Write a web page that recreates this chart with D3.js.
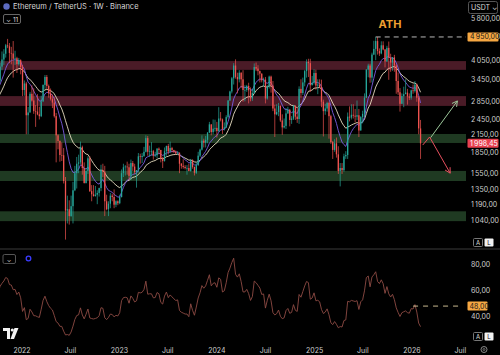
<!DOCTYPE html>
<html><head><meta charset="utf-8">
<script src="https://cdn.jsdelivr.net/npm/d3@7/dist/d3.min.js"></script>
<style>
html,body{margin:0;padding:0;background:#000;overflow:hidden}
svg{display:block;font-family:"Inter","Roboto","Noto Sans",sans-serif}
</style></head><body><svg id="c" width="500" height="355"></svg>
<script>
// ---------- DATA (ETH/USDT weekly) ----------
const firstWeek = "2021-05-24";
const firstOpen = 2100;
const closes = [
 2430,2710,2510,2240,1980,2320,2130,1900,2190,2610,3160,3150,3240,3230,3950,3410,3330,2920,3390,
 3415,3845,4085,4290,4610,4570,4320,4300,4110,4130,3925,4060,3830,
 3150,3330,2540,2600,3050,2880,2630,2620,2560,2520,2860,3290,3520,3260,3060,2920,2830,2520,2140,2040,1810,1805,
 1450,1127,1140,1075,1170,1340,1550,1680,1700,1935,1620,1425,1580,1760,1330,1295,1275,1290,1310,1365,1590,1570,
 1220,1140,1195,1280,1265,1185,1220,1200,
 1265,1550,1630,1640,1630,1515,1690,1640,1565,1590,1790,1780,1795,1860,2090,1860,1870,1870,1800,1805,1910,1890,
 1750,1720,1870,1955,1865,1920,1890,1860,1835,1845,1680,1650,1635,1620,1620,1580,1730,1635,1555,1660,1800,1895,
 2045,2010,2060,2190,2350,2200,2265,2280,
 2220,2470,2450,2260,2290,2500,2880,3110,3480,3880,3520,3450,3650,3450,3150,3150,3260,3140,2930,3070,3830,3780,
 3700,3620,3420,3440,2930,3250,3530,3270,2690,2560,2610,2750,2430,2290,2320,2580,2660,2440,2470,2750,2510,2460,
 3180,3070,3360,3700,4000,3960,3280,3350,3640,
 3270,3300,3230,2850,2630,2690,2820,2520,2020,1890,2000,1820,1580,1620,1590,1790,1810,2510,2490,2550,2530,2510,
 2540,2230,2500,2570,2950,3750,3880,3500,4260,4470,4780,4390,4300,4610,4450,4020,4510,4150,3980,4160,3880,3400,
 3090,2800,2990,3040,3080,2980,2950,3140,
 3120,3300,2950,2270,1998.45
];
const highs = [
 2900,2890,2720,2600,2270,2400,2410,2070,2280,2640,3180,3330,3280,3370,4030,3970,3680,3340,3480,
 3670,3975,4375,4460,4665,4868,4700,4550,4780,4400,4180,4140,4090,
 3900,3415,3375,2725,3100,3280,3195,2770,3040,2730,3000,3300,3580,3580,3300,3190,3030,2960,2590,2160,2050,2015,
 1920,1500,1280,1230,1280,1440,1650,1780,1815,2030,1960,1700,1620,1790,1790,1400,1400,1390,1340,1370,1665,1680,
 1650,1290,1220,1310,1300,1350,1230,1230,
 1290,1600,1680,1660,1710,1680,1740,1720,1680,1590,1840,1830,1840,1940,2140,2130,1960,2020,1890,1860,1920,1930,
 1890,1780,1930,1960,1990,2030,1940,1890,1880,1870,1850,1690,1745,1660,1660,1680,1750,1745,1640,1700,1860,1910,
 2140,2080,2130,2200,2400,2300,2450,2445,
 2400,2720,2610,2470,2390,2540,2890,3130,3520,3960,4090,3650,3730,3660,3730,3280,3290,3350,3220,3190,3950,3980,
 3890,3720,3630,3500,3520,3280,3560,3560,3400,2780,2790,2820,2760,2560,2470,2700,2730,2680,2520,2770,2770,2720,
 3250,3450,3500,3740,4090,4110,4110,3550,3760,
 3745,3450,3450,3440,2900,2800,2850,2850,2550,2040,2070,2100,1950,1690,1690,1830,1870,2600,2740,2790,2790,2680,
 2880,2680,2520,2640,3060,3760,3940,3940,4330,4790,4956,4950,4490,4770,4770,4460,4590,4760,4290,4170,4250,3920,
 3660,3200,3060,3240,3450,3180,3060,3160,
 3300,3400,3330,3000,2440
];
const lows = [
 1730,2500,2320,2040,1700,1960,2040,1850,1720,2160,2450,3020,2950,3060,3160,3030,3280,2650,2740,
 3280,3370,3725,3900,4150,4500,3960,3920,3500,3900,3640,3880,3600,
 2990,3000,2160,2160,2600,2855,2570,2300,2540,2450,2500,2840,3180,3160,2950,2880,2700,2490,1700,1900,1710,1720,
 1420,880,1010,1000,1070,1010,1330,1360,1550,1670,1530,1420,1420,1540,1320,1220,1270,1270,1190,1270,1330,1500,
 1075,1130,1075,1150,1220,1150,1160,1180,
 1190,1260,1500,1520,1530,1460,1460,1580,1540,1370,1560,1680,1690,1780,1850,1800,1780,1800,1740,1780,1760,1820,
 1700,1620,1710,1800,1820,1840,1850,1840,1815,1815,1550,1610,1610,1600,1530,1575,1570,1610,1520,1540,1650,1780,
 1880,1930,1930,2000,2180,2140,2160,2210,
 2100,2200,2410,2165,2230,2280,2470,2870,3060,3300,3470,3060,3360,3200,2850,2860,3100,2810,2860,2870,3050,3700,
 3570,3360,3360,3240,2810,2900,3190,3080,2630,2110,2540,2520,2400,2150,2270,2260,2570,2310,2360,2440,2440,2380,
 2360,2950,3020,3250,3500,3520,3100,3280,3300,
 3160,3040,3200,2720,2120,2550,2620,2080,1990,1750,1860,1770,1540,1385,1540,1570,1750,1750,2410,2450,2470,2390,
 2440,2110,2230,2370,2500,2940,3510,3350,3360,4240,4060,4260,4210,4270,4420,3820,4000,3435,3680,3710,3680,3050,
 3020,2620,2800,2720,3050,2780,2890,2900,
 3050,3080,2850,2160,1750
];
const priceTicks = [5800, 4950, 4050, 3450, 2850, 2450, 2150, 1850, 1550, 1350, 1190, 1040];
const timeTickDates = ["2022-01-01","2022-07-01","2023-01-01","2023-07-01","2024-01-01","2024-07-01","2025-01-01","2025-07-01","2026-01-01","2026-07-01"];
const timeTickLabels = ["2022","Juil","2023","Juil","2024","Juil","2025","Juil","2026","Juil"];
const resistanceZones = [[3740, 4030], [2750, 2990]];
const supportZones = [[2005, 2165], [1450, 1580], [1030, 1120]];
const athPrice = 4950;
const athStart = "2025-08-18";
const lastPrice = 1998.45;
const upPathDates = ["2026-03-12", "2026-06-20"];
const upPathPrices = [2100, 2870];
const downPathDates = ["2026-02-10", "2026-03-08", "2026-05-24"];
const downPathPrices = [1970, 2110, 1550];
const rsiTicks = [80, 60, 40];
const rsiLevel = 48;
const rsiLevelStart = "2026-01-05";
const fastLen = 10, slowLen = 20, rsiLen = 14;

// ---------- SETUP ----------
const svg = d3.select("#c");
const W = 500, H = 355, plotR = 466, priceB = 248, rsiT = 250, rsiB = 341;
const fr = d3.formatLocale({decimal: ",", thousands: "\u202f", grouping: [3], currency: ["", ""]});
const fmt = fr.format(",.2f");
const parse = d3.timeParse("%Y-%m-%d");
const x = d3.scaleTime().domain([parse("2022-01-01"), parse("2026-01-01")]).range([22, 412]);
const y = d3.scaleLog().domain([4050, 1040]).range([60.5, 220]);
const yr = d3.scaleLinear().domain([80, 40]).range([264, 316.6]);

svg.append("rect").attr("width", W).attr("height", H).attr("fill", "#000");
const defs = svg.append("defs");
defs.append("clipPath").attr("id", "cp").append("rect").attr("x", 0).attr("y", 0).attr("width", plotR).attr("height", priceB);
defs.append("clipPath").attr("id", "cr").append("rect").attr("x", 0).attr("y", rsiT).attr("width", plotR).attr("height", rsiB - rsiT);

const start = parse(firstWeek);
const candles = closes.map((c, i) => ({
  date: d3.timeMonday.offset(start, i),
  open: i ? closes[i - 1] : firstOpen,
  high: highs[i], low: lows[i], close: c
}));

// zones
const pz = svg.append("g").attr("clip-path", "url(#cp)");
resistanceZones.forEach(([lo, hi]) => pz.append("rect").attr("x", 0).attr("width", plotR)
  .attr("y", y(hi)).attr("height", y(lo) - y(hi)).attr("fill", "#4a1b27"));
supportZones.forEach(([lo, hi]) => pz.append("rect").attr("x", 0).attr("width", plotR)
  .attr("y", y(hi)).attr("height", y(lo) - y(hi)).attr("fill", "#1f3a22"));

// moving averages
function ema(vals, n) {
  const k = 2 / (n + 1); let prev = vals[0];
  return vals.map((v, i) => (prev = i ? v * k + prev * (1 - k) : v));
}
const fast = ema(closes, fastLen), slow = ema(closes, slowLen);
const lineP = d3.line().x((d, i) => x(candles[i].date)).y(d => y(d));
pz.append("path").attr("d", lineP(slow)).attr("fill", "none").attr("stroke", "#e9dfc2").attr("stroke-width", 0.9);
pz.append("path").attr("d", lineP(fast)).attr("fill", "none").attr("stroke", "#7a5ce0").attr("stroke-width", 0.9);

// candles
const up = "#26a69a", dn = "#ef5350";
const cg = pz.append("g");
cg.selectAll("line").data(candles).join("line")
  .attr("x1", d => x(d.date)).attr("x2", d => x(d.date))
  .attr("y1", d => y(Math.max(d.high, d.open, d.close))).attr("y2", d => y(Math.min(d.low, d.open, d.close)))
  .attr("stroke", d => d.close >= d.open ? up : dn).attr("stroke-width", 0.7);
cg.selectAll("rect").data(candles).join("rect")
  .attr("x", d => x(d.date) - 0.65).attr("width", 1.3)
  .attr("y", d => y(Math.max(d.open, d.close)))
  .attr("height", d => Math.max(0.6, y(Math.min(d.open, d.close)) - y(Math.max(d.open, d.close))))
  .attr("fill", d => d.close >= d.open ? up : dn);

// ATH line
svg.append("line").attr("x1", x(parse(athStart))).attr("x2", plotR).attr("y1", y(athPrice)).attr("y2", y(athPrice))
  .attr("stroke", "#b8b8b8").attr("stroke-width", 1).attr("stroke-dasharray", "5,4");
svg.append("text").attr("x", 390).attr("y", 28).attr("text-anchor", "middle").attr("fill", "#f0a030")
  .attr("font-size", 11).attr("font-weight", 700).text("ATH");

// projection arrows
function arrow(dates, prices, color) {
  const pts = dates.map((d, i) => [x(parse(d)), y(prices[i])]);
  svg.append("path").attr("d", d3.line()(pts)).attr("fill", "none").attr("stroke", color).attr("stroke-width", 1);
  const [a, b] = pts.slice(-2);
  const ang = Math.atan2(b[1] - a[1], b[0] - a[0]), L = 6;
  const h1 = [b[0] - L * Math.cos(ang - 0.5), b[1] - L * Math.sin(ang - 0.5)];
  const h2 = [b[0] - L * Math.cos(ang + 0.5), b[1] - L * Math.sin(ang + 0.5)];
  svg.append("path").attr("d", d3.line()([h1, b, h2])).attr("fill", "none").attr("stroke", color).attr("stroke-width", 1);
}
arrow(upPathDates, upPathPrices, "#9cc79a");
arrow(downPathDates, downPathPrices, "#e8505f");

// price axis labels
const axG = svg.append("g").attr("font-size", 7).attr("fill", "#cfcfcf");
priceTicks.forEach(p => axG.append("text").attr("x", 471).attr("y", y(p) + 2.5).text(fmt(p)));
function tag(yy, txt, bg, fg, w) {
  svg.append("rect").attr("x", 467.5).attr("y", yy - 4.5).attr("width", w).attr("height", 9).attr("rx", 1).attr("fill", bg);
  svg.append("text").attr("x", 470).attr("y", yy + 2.5).attr("font-size", 7).attr("fill", fg).text(txt);
}
tag(y(athPrice), fmt(athPrice), "#f5a742", "#1a1a1a", 31);
tag(y(lastPrice), fmt(lastPrice), "#e8404f", "#ffffff", 31);

// USDT box
svg.append("rect").attr("x", 468.5).attr("y", 1.5).attr("width", 29).attr("height", 12).attr("rx", 2).attr("fill", "none").attr("stroke", "#555");
svg.append("text").attr("x", 471).attr("y", 10).attr("font-size", 7).attr("fill", "#ddd").text("USDT \u2304");

// separator
svg.append("line").attr("x1", 0).attr("x2", W).attr("y1", 249).attr("y2", 249).attr("stroke", "#3a3a3a").attr("stroke-width", 1);

// RSI
function rsi(vals, n) {
  let ag = 0, al = 0; const out = [];
  vals.forEach((v, i) => {
    if (i === 0) { out.push(50); return; }
    const ch = v - vals[i - 1], g = Math.max(ch, 0), l = Math.max(-ch, 0);
    if (i <= n) { ag += g / n; al += l / n; } else { ag = (ag * (n - 1) + g) / n; al = (al * (n - 1) + l) / n; }
    out.push(al === 0 ? 100 : 100 - 100 / (1 + ag / al));
  });
  return out;
}
const rsiVals = rsi(closes, rsiLen);
svg.append("g").attr("clip-path", "url(#cr)").append("path")
  .attr("d", d3.line().x((d, i) => x(candles[i].date)).y(d => yr(d))(rsiVals.slice(rsiLen)))
  .attr("transform", `translate(${x(candles[rsiLen].date) - x(candles[0].date)},0)`)
  .attr("fill", "none").attr("stroke", "#8d4b44").attr("stroke-width", 0.9);
svg.append("line").attr("x1", x(parse(rsiLevelStart))).attr("x2", 463).attr("y1", yr(rsiLevel)).attr("y2", yr(rsiLevel))
  .attr("stroke", "#c9b98f").attr("stroke-width", 1).attr("stroke-dasharray", "5,5");
rsiTicks.forEach(v => axG.append("text").attr("x", 471).attr("y", yr(v) + 2.5).text(fmt(v)));
svg.append("rect").attr("x", 467.5).attr("y", yr(rsiLevel) - 4.5).attr("width", 20).attr("height", 9).attr("rx", 1).attr("fill", "#f5a742");
svg.append("text").attr("x", 469.5).attr("y", yr(rsiLevel) + 2.5).attr("font-size", 7).attr("fill", "#1a1a1a").text(fmt(rsiLevel));

// time axis
const tg = svg.append("g").attr("font-size", 7).attr("fill", "#cfcfcf").attr("text-anchor", "middle");
timeTickDates.forEach((d, i) => tg.append("text").attr("x", x(parse(d))).attr("y", 353).text(timeTickLabels[i]));

// A / L buttons
function al(yy) {
  svg.append("rect").attr("x", 473.5).attr("y", yy).attr("width", 9).attr("height", 8).attr("rx", 1).attr("fill", "none").attr("stroke", "#777");
  svg.append("text").attr("x", 478).attr("y", yy + 6.3).attr("font-size", 6).attr("fill", "#ddd").attr("text-anchor", "middle").text("A");
  svg.append("rect").attr("x", 484.5).attr("y", yy).attr("width", 9).attr("height", 8).attr("rx", 1).attr("fill", "#f2f2f2");
  svg.append("text").attr("x", 489).attr("y", yy + 6.3).attr("font-size", 6).attr("fill", "#111").attr("text-anchor", "middle").text("L");
}
al(238.5); al(332.5);
// gear
svg.append("circle").attr("cx", 484).attr("cy", 349.5).attr("r", 3).attr("fill", "none").attr("stroke", "#aaa").attr("stroke-width", 0.8);
svg.append("circle").attr("cx", 484).attr("cy", 349.5).attr("r", 1).attr("fill", "none").attr("stroke", "#aaa").attr("stroke-width", 0.6);

// title
svg.append("circle").attr("cx", 6.5).attr("cy", 6.5).attr("r", 3.2).attr("fill", "#5c6bc0");
svg.append("text").attr("x", 13).attr("y", 9).attr("font-size", 7.5).attr("fill", "#d8d8d8").text("Ethereum / TetherUS \u00b7 1W \u00b7 Binance");
svg.append("rect").attr("x", 3.5).attr("y", 14.5).attr("width", 17).attr("height", 9).attr("rx", 1.5).attr("fill", "none").attr("stroke", "#666");
svg.append("text").attr("x", 6).attr("y", 21.5).attr("font-size", 6.5).attr("fill", "#ddd").text("\u2304 11");
// indicator pane icons
svg.append("rect").attr("x", 3).attr("y", 254.5).attr("width", 12.5).attr("height", 9).attr("rx", 1.5).attr("fill", "none").attr("stroke", "#555");
svg.append("text").attr("x", 9.2).attr("y", 261.5).attr("font-size", 6).attr("fill", "#ddd").attr("text-anchor", "middle").text("\u2304");
svg.append("circle").attr("cx", 28.5).attr("cy", 258.5).attr("r", 2.3).attr("fill", "none").attr("stroke", "#3b3bff").attr("stroke-width", 1.3);
// TradingView logo
const lg = svg.append("g").attr("fill", "#f2f2f2");
lg.append("path").attr("d", "M3,328 H10 V339 H7 V331 H3 Z");
lg.append("circle").attr("cx", 12.3).attr("cy", 330).attr("r", 1.6);
lg.append("path").attr("d", "M14.5,328 H18.5 L14,339 H10.5 Z");
</script></body></html>
